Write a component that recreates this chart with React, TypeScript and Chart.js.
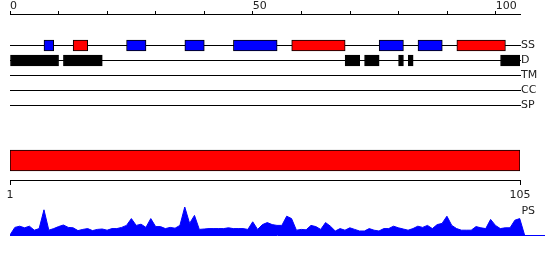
import React, { useEffect, useRef } from 'react';
import { Chart, registerables } from 'chart.js';

Chart.register(...registerables);

// ---- data ----
const trackNames = ['SS', 'D', 'TM', 'CC', 'SP'];
const helixRanges: [number, number][] = [[13, 16], [58, 69], [92, 102]];
const strandRanges: [number, number][] = [[7, 9], [24, 28], [36, 40], [46, 55], [76, 81], [84, 89]];
const disorderRanges: [number, number][] = [[0, 10], [11, 19], [69, 72], [73, 76], [80, 81], [82, 83], [101, 105]];
const topTicks = [0, 10, 20, 30, 40, 50, 60, 70, 80, 90, 100];
const topTickLabels = [0, 50, 100];
const seqStart = 1;
const seqEnd = 105;
const seqTicks = [1, 105];
const psLabel = 'PS';
const psScores = [
  0.19, 0.22, 0.18, 0.22, 0.12, 0.16, 0.63, 0.12, 0.16, 0.21,
  0.25, 0.19, 0.18, 0.11, 0.14, 0.16, 0.11, 0.14, 0.15, 0.12,
  0.16, 0.16, 0.19, 0.24, 0.41, 0.24, 0.27, 0.19, 0.41, 0.21,
  0.21, 0.16, 0.19, 0.17, 0.24, 0.70, 0.29, 0.49, 0.14, 0.15,
  0.16, 0.16, 0.16, 0.16, 0.18, 0.16, 0.16, 0.16, 0.14, 0.33,
  0.14, 0.26, 0.31, 0.26, 0.24, 0.24, 0.47, 0.41, 0.12, 0.14,
  0.13, 0.24, 0.21, 0.14, 0.31, 0.22, 0.10, 0.16, 0.12, 0.18,
  0.14, 0.10, 0.10, 0.16, 0.12, 0.10, 0.16, 0.16, 0.22, 0.18,
  0.15, 0.12, 0.16, 0.22, 0.19, 0.24, 0.16, 0.26, 0.29, 0.47,
  0.24, 0.16, 0.12, 0.12, 0.12, 0.21, 0.18, 0.16, 0.39, 0.24,
  0.16, 0.18, 0.18, 0.37, 0.41,
];

const BLUE = '#0000ff';
const RED = '#ff0000';
const INK = '#222222';
const FONT = { family: 'DejaVu Sans', size: 11, lineHeight: 1 };

Chart.defaults.font.family = 'DejaVu Sans';
Chart.defaults.font.size = 11;
Chart.defaults.color = INK;

const noPlugins = { legend: { display: false }, tooltip: { enabled: false } };

export default function App() {
  const aRef = useRef<HTMLCanvasElement>(null);
  const bRef = useRef<HTMLCanvasElement>(null);
  const cRef = useRef<HTMLCanvasElement>(null);

  useEffect(() => {
    const ssRow = trackNames.indexOf('SS');
    const dRow = trackNames.indexOf('D');

    const chartA = new Chart(aRef.current!, {
      type: 'bar',
      data: {
        datasets: [
          { label: 'Strand', data: strandRanges.map((r) => ({ x: r, y: ssRow })) as any, backgroundColor: BLUE },
          { label: 'Helix', data: helixRanges.map((r) => ({ x: r, y: ssRow })) as any, backgroundColor: RED },
          { label: 'Disorder', data: disorderRanges.map((r) => ({ x: r, y: dRow })) as any, backgroundColor: '#000' },
        ],
      },
      options: {
        indexAxis: 'y',
        responsive: false,
        animation: false,
        layout: { padding: { left: 10, right: 0, top: 0, bottom: 147 } },
        datasets: { bar: { grouped: false, barThickness: 11, borderWidth: 1, borderColor: '#000', borderSkipped: false } as any },
        plugins: noPlugins as any,
        scales: {
          x: {
            type: 'linear', position: 'top', min: 0, max: 105, offset: false,
            afterBuildTicks: (s: any) => { s.ticks = topTicks.map((v) => ({ value: v })); },
            afterFit: (s: any) => { s.height = 14; },
            grid: { drawOnChartArea: false, drawTicks: true, tickLength: 3, color: '#000', offset: false },
            border: { color: '#000', width: 1 },
            ticks: {
              autoSkip: false, maxRotation: 0, align: 'start', padding: -1, font: FONT,
              callback: (v: any) => (topTickLabels.includes(Number(v)) ? String(v) : ''),
            },
          },
          y: {
            type: 'linear', position: 'right', reverse: true, min: -2.1, max: 4.5, offset: false,
            afterBuildTicks: (s: any) => { s.ticks = trackNames.map((_, i) => ({ value: i })); },
            afterFit: (s: any) => { s.width = 30; },
            grid: { drawOnChartArea: true, drawTicks: true, tickLength: 1, color: '#000', lineWidth: 1, offset: false },
            border: { display: false },
            ticks: { padding: 0, autoSkip: false, font: FONT, callback: (v: any) => trackNames[Number(v)] ?? '' },
          },
        },
      } as any,
    });

    const chartB = new Chart(bRef.current!, {
      type: 'bar',
      data: {
        labels: ['Sequence'],
        datasets: [{
          label: 'Sequence', data: [[seqStart, seqEnd]] as any, backgroundColor: RED, borderColor: '#000',
          borderWidth: 1, borderSkipped: false, barThickness: 21,
        }],
      },
      options: {
        indexAxis: 'y',
        responsive: false,
        animation: false,
        layout: { padding: { left: 10, right: 30, top: 141, bottom: 0 } },
        plugins: noPlugins as any,
        scales: {
          x: {
            type: 'linear', position: 'bottom', min: seqStart, max: seqEnd,
            afterBuildTicks: (s: any) => { s.ticks = seqTicks.map((v) => ({ value: v })); },
            afterFit: (s: any) => { s.height = 80; },
            grid: { drawOnChartArea: false, drawTicks: true, tickLength: 5, color: '#000' },
            border: { color: '#000', width: 1 },
            ticks: { autoSkip: false, maxRotation: 0, padding: 5, font: FONT },
          },
          y: { type: 'category', display: false },
        },
      } as any,
    });

    const psData = [
      { x: 0, y: 0 },
      ...psScores.map((v, i) => ({ x: i + 1, y: v })),
      { x: psScores.length + 1, y: 0 },
    ];

    const chartC = new Chart(cRef.current!, {
      type: 'line',
      data: {
        datasets: [{
          label: psLabel, data: psData as any, fill: 'origin', backgroundColor: BLUE, borderColor: BLUE,
          borderWidth: 1, pointRadius: 0, tension: 0,
        }],
      },
      options: {
        responsive: false,
        animation: false,
        layout: { padding: { left: 10, right: 6, top: 195, bottom: 25 } },
        plugins: noPlugins as any,
        scales: {
          x: {
            type: 'linear', min: 0, max: 110,
            afterFit: (s: any) => { s.height = 0; },
            ticks: { display: false },
            grid: { display: false },
            border: { color: BLUE, width: 1 },
          },
          y: {
            type: 'linear', position: 'right', min: 0, max: 1,
            afterFit: (s: any) => { s.width = 0; },
            afterBuildTicks: (s: any) => { s.ticks = [{ value: 0.6 }]; },
            grid: { display: false },
            border: { display: false },
            ticks: { mirror: true, padding: -9, font: FONT, callback: () => psLabel },
          },
        },
      } as any,
    });

    return () => {
      chartA.destroy();
      chartB.destroy();
      chartC.destroy();
    };
  }, []);

  const cs: React.CSSProperties = { position: 'absolute', left: 0, top: 0 };
  return (
    <div style={{ position: 'fixed', left: 0, top: 0, width: 550, height: 260, background: '#fff' }}>
      <canvas ref={aRef} width={550} height={260} style={cs} />
      <canvas ref={bRef} width={550} height={260} style={cs} />
      <canvas ref={cRef} width={550} height={260} style={cs} />
    </div>
  );
}
